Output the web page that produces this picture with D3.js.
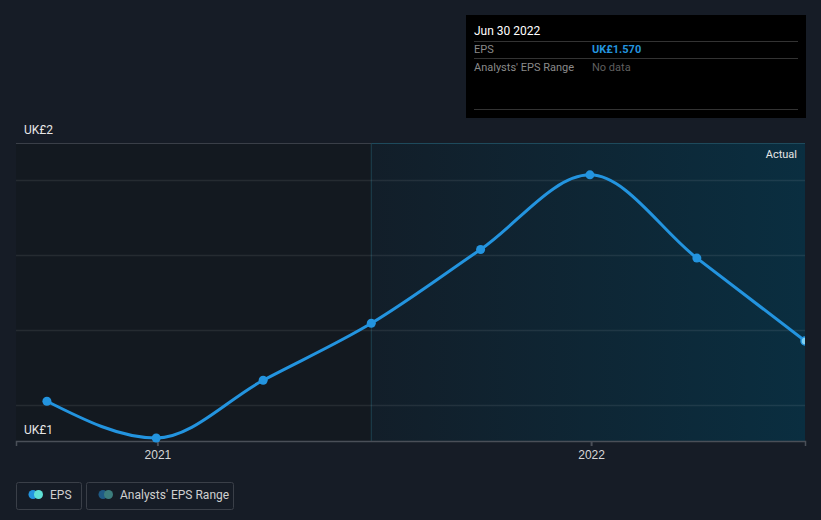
<!DOCTYPE html>
<html><head><meta charset="utf-8">
<script src="https://cdn.jsdelivr.net/npm/d3@7"></script>
<style>
html,body{margin:0;padding:0;background:#161c26;}
svg{display:block;font-family:Roboto,"Noto Sans",sans-serif;}
</style></head>
<body><svg id="c" width="821" height="520"></svg>
<script>
const dates = ["2020-09-30","2020-12-31","2021-03-31","2021-06-30","2021-09-30","2021-12-31","2022-03-31","2022-06-30"];
const eps = [1.409, 1.311, 1.465, 1.617, 1.814, 2.013, 1.791, 1.570];
const yTicks = [1.4, 1.6, 1.8, 2.0];
const yLabels = ["UK£2", "UK£1"];
const xTickYears = ["2021-01-01", "2022-01-01"];
const xTickLabels = ["2021", "2022"];
const actualStart = "2021-06-30";

const parse = d3.timeParse("%Y-%m-%d");
const svg = d3.select("#c");
const L = 16, R = 805, T = 143, B = 441;

const x = d3.scaleTime().domain([parse("2020-09-04"), parse("2022-06-30")]).range([L, R]);
const y = d3.scaleLinear().domain([1.303, 2.098]).range([B, T]);

const defs = svg.append("defs");
const g1 = defs.append("linearGradient").attr("id","fut").attr("x1","0").attr("x2","1").attr("y1","0").attr("y2","0");
g1.append("stop").attr("offset","0").attr("stop-color","#121e29");
g1.append("stop").attr("offset","1").attr("stop-color","#0a2e40");
defs.append("clipPath").attr("id","clip").append("rect").attr("x",L).attr("y",T-10).attr("width",R-L).attr("height",B-T+20);

const xa = x(parse(actualStart));
svg.append("rect").attr("x",L).attr("y",T).attr("width",xa-L).attr("height",B-T).attr("fill","#131920");
svg.append("rect").attr("x",xa).attr("y",T).attr("width",R-xa).attr("height",B-T).attr("fill","url(#fut)");
svg.append("line").attr("x1",xa).attr("x2",xa).attr("y1",T).attr("y2",B).attr("stroke","#1d4150").attr("stroke-width",1);
svg.append("line").attr("x1",xa).attr("x2",R).attr("y1",T+0.5).attr("y2",T+0.5).attr("stroke","#1e4a5c").attr("stroke-width",1);
svg.append("line").attr("x1",L).attr("x2",xa).attr("y1",T+0.5).attr("y2",T+0.5).attr("stroke","#3a3f48").attr("stroke-width",1);

// gridlines
svg.append("g").selectAll("line").data(yTicks).join("line")
  .attr("x1",L).attr("x2",R).attr("y1",d=>Math.round(y(d))+0.5).attr("y2",d=>Math.round(y(d))+0.5)
  .attr("stroke","rgba(255,255,255,0.08)").attr("stroke-width",1.5);

// x axis
const xAxis = d3.axisBottom(x).tickValues(xTickYears.map(parse))
  .tickFormat((d,i)=>xTickLabels[i]).tickSize(5).tickPadding(4);
const ax = svg.append("g").attr("transform",`translate(0,${B})`).call(xAxis);
ax.select(".domain").attr("stroke","#4a4f58").attr("stroke-width",1.5);
ax.selectAll(".tick line").attr("stroke","#4a4f58").attr("stroke-width",2);
ax.selectAll(".tick text").attr("fill","#d6d6d6").attr("font-size",12);

// y labels
svg.append("text").attr("x",24).attr("y",134).attr("fill","#e6e6e6").attr("font-size",12).text(yLabels[0]);
svg.append("text").attr("x",24).attr("y",434).attr("fill","#e6e6e6").attr("font-size",12).text(yLabels[1]);
svg.append("text").attr("x",797).attr("y",158).attr("text-anchor","end").attr("fill","#e6e6e6").attr("font-size",11).text("Actual");

// line
const data = dates.map((d,i)=>({d:parse(d), v:eps[i]}));
const line = d3.line().x(d=>x(d.d)).y(d=>y(d.v)).curve(d3.curveMonotoneX);
const pg = svg.append("g").attr("clip-path","url(#clip)");
pg.append("path").datum(data).attr("d",line).attr("fill","none").attr("stroke","#2394df").attr("stroke-width",3);
pg.selectAll("circle").data(data).join("circle")
  .attr("cx",d=>x(d.d)).attr("cy",d=>y(d.v)).attr("r",(d,i)=>i===data.length-1?4:4.5)
  .attr("fill",(d,i)=>i===data.length-1?"#7fd0f0":"#2394df")
  .attr("stroke",(d,i)=>i===data.length-1?"#2394df":"none").attr("stroke-width",1.5);

// tooltip
const tt = svg.append("g");
tt.append("rect").attr("x",466).attr("y",15).attr("width",340).attr("height",103).attr("fill","#000");
tt.append("text").attr("x",474).attr("y",35).attr("fill","#fff").attr("font-size",12).text("Jun 30 2022");
[41,58,109].forEach(yy=>tt.append("line").attr("x1",474).attr("x2",798).attr("y1",yy+0.5).attr("y2",yy+0.5).attr("stroke","#333").attr("stroke-width",1));
tt.append("text").attr("x",474).attr("y",53).attr("fill","#8a8a8a").attr("font-size",11).text("EPS");
tt.append("text").attr("x",592).attr("y",53).attr("fill","#2394df").attr("font-size",11).attr("font-weight","bold").text("UK£" + eps[eps.length-1].toFixed(3));
tt.append("text").attr("x",474).attr("y",71).attr("fill","#8a8a8a").attr("font-size",11).text("Analysts' EPS Range");
tt.append("text").attr("x",592).attr("y",71).attr("fill","#5f5f5f").attr("font-size",11).text("No data");

// legend
const lg = svg.append("g");
lg.append("rect").attr("x",16.5).attr("y",482.5).attr("width",65).attr("height",27).attr("rx",2).attr("fill","none").attr("stroke","#3a3f48");
lg.append("circle").attr("cx",33).attr("cy",494.5).attr("r",4.5).attr("fill","#2394df");
lg.append("circle").attr("cx",38.5).attr("cy",494.5).attr("r",4.5).attr("fill","#5fe0d5");
lg.append("text").attr("x",50).attr("y",499).attr("fill","#d0d0d0").attr("font-size",12).text("EPS");
lg.append("rect").attr("x",86.5).attr("y",482.5).attr("width",147).attr("height",27).attr("rx",2).attr("fill","none").attr("stroke","#3a3f48");
lg.append("circle").attr("cx",103).attr("cy",494.5).attr("r",4.5).attr("fill","#1f5a85");
lg.append("circle").attr("cx",108.5).attr("cy",494.5).attr("r",4.5).attr("fill","#3c7d7d");
lg.append("text").attr("x",120).attr("y",499).attr("fill","#d0d0d0").attr("font-size",12).text("Analysts' EPS Range");
</script></body></html>
